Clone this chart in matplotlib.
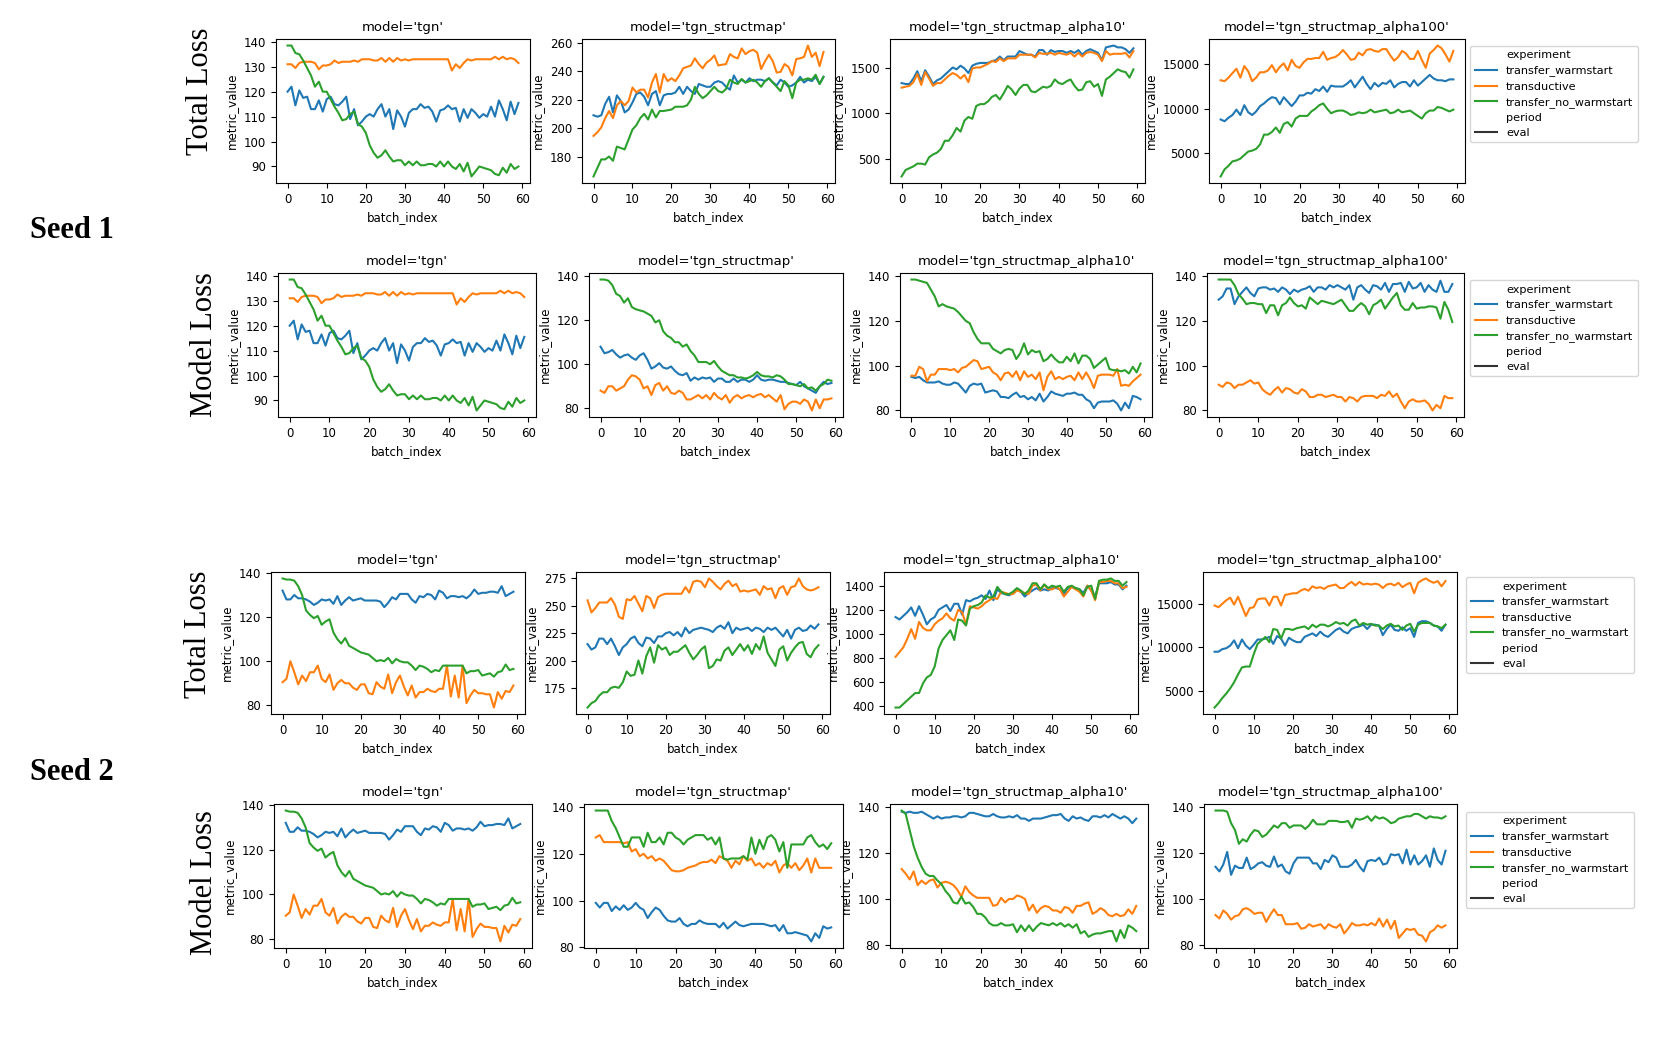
import numpy as np
import matplotlib.pyplot as plt
from matplotlib.lines import Line2D

# experiments / models
experiments = ["transfer_warmstart", "transductive", "transfer_no_warmstart"]
models = ["tgn", "tgn_structmap", "tgn_structmap_alpha10", "tgn_structmap_alpha100"]
colors = ["#1f77b4", "#ff7f0e", "#2ca02c"]

# ---------------- seed 1 ----------------
# tgn (total loss == model loss)
s1_tgn_warm = [120, 122, 114.5, 120.5, 117.5, 118, 113, 113, 116.5, 112,
               117, 118, 115, 114.5, 116, 118, 109, 113, 106.5, 108,
               110, 111, 110, 113, 115, 110, 113, 105, 112.5, 110,
               106, 111.5, 113, 113, 115, 113.5, 114, 112, 108, 112.5,
               113, 114.5, 113, 113.5, 108, 113, 109.5, 113, 111.5, 109.5,
               111, 110, 114, 110, 116.5, 113, 108.5, 116, 111, 115.5]
s1_tgn_trans = [131, 131, 129.5, 131.5, 132, 132, 132, 131.5, 129, 130.5,
                130.5, 131, 132.5, 131.5, 132, 132, 132, 132.5, 132, 133,
                133, 133, 132.5, 132.5, 133.5, 132, 133.5, 132, 133.5, 132.5,
                133, 132.5, 133, 133, 133, 133, 133, 133, 133, 133,
                133, 133, 128.5, 131, 129.5, 131.5, 133, 132.5, 133, 133,
                133, 133, 133, 134, 133, 134, 133, 133.5, 133, 131.5]
s1_tgn_nowarm = [138.5, 138.5, 135.5, 135, 132.5, 129.5, 126.5, 122, 124, 120,
                 120, 117, 114, 111.5, 108.5, 109, 111, 112, 107, 106,
                 103.5, 98.5, 95.5, 93.5, 94.5, 96.5, 94, 92, 92.5, 92.5,
                 90.5, 92, 90.5, 92, 90.5, 90.5, 91, 91, 90, 92,
                 90, 92, 90, 89, 91, 88, 91.5, 86, 88, 90,
                 89.5, 89, 88.5, 87, 86.5, 89.5, 87.5, 91, 89, 90]

# tgn_structmap, total loss
s1_sm_total_warm = [209, 208, 209, 217, 222, 211, 223, 219, 211, 213,
                    218, 224, 225, 222, 216, 224, 226, 216, 223, 224,
                    224, 225, 229, 224, 229, 226, 224, 231, 230, 229,
                    229, 232, 233, 232, 229, 227, 237, 232, 234, 232,
                    235, 233, 234, 234, 233, 235, 232, 230, 234, 232,
                    229, 230, 232, 236, 232, 234, 233, 236, 231, 236]
s1_sm_total_trans = [194.5, 197, 200.5, 207, 212, 207, 216, 219, 216, 219,
                     228.5, 225, 227, 227, 221.5, 232, 238, 225, 238, 233,
                     235, 233, 237, 242, 243, 244, 249, 245, 242, 246,
                     248, 251, 244, 244.5, 245, 252, 250, 249, 256, 252,
                     254, 255, 253, 241.5, 247, 251.5, 247, 239, 239.5, 245,
                     243, 237, 248.5, 249, 250, 258, 250, 253, 243.5, 253.5]
s1_sm_total_nowarm = [166, 172, 178, 178, 180, 177, 187, 186, 185, 192,
                      199, 202, 207, 210, 206, 213, 207.5, 212, 212, 212.5,
                      213, 215, 215, 215, 216, 220, 229, 224, 221, 223,
                      226, 229, 226, 225, 227.5, 234, 232, 231, 234.5, 232,
                      233, 234, 232, 229, 233, 235, 232, 229, 226, 233,
                      230, 221, 232, 234, 234, 235, 234, 237.5, 231, 236]

# tgn_structmap_alpha10, total loss
s1_a10_total_warm = [1330, 1320, 1320, 1380, 1460, 1350, 1470, 1400, 1320, 1360,
                     1380, 1420, 1460, 1500, 1480, 1520, 1490, 1440, 1520, 1540,
                     1550, 1550, 1550, 1570, 1580, 1620, 1580, 1620, 1620, 1620,
                     1680, 1660, 1640, 1640, 1620, 1690, 1690, 1640, 1690, 1670,
                     1680, 1680, 1660, 1680, 1660, 1690, 1640, 1680, 1700, 1680,
                     1660, 1580, 1720, 1730, 1740, 1720, 1720, 1700, 1660, 1710]
s1_a10_total_trans = [1280, 1290, 1300, 1340, 1430, 1310, 1450, 1380, 1300, 1330,
                      1330, 1370, 1410, 1440, 1420, 1380, 1420, 1340, 1490, 1500,
                      1500, 1520, 1540, 1570, 1560, 1600, 1570, 1600, 1600, 1600,
                      1640, 1640, 1640, 1640, 1610, 1660, 1650, 1650, 1660, 1640,
                      1660, 1650, 1640, 1660, 1620, 1660, 1620, 1660, 1670, 1660,
                      1640, 1570, 1680, 1640, 1650, 1650, 1650, 1660, 1610, 1680]
s1_a10_total_nowarm = [310, 380, 400, 420, 450, 450, 440, 520, 550, 570,
                       610, 700, 700, 760, 840, 800, 920, 960, 940, 1080,
                       1100, 1100, 1130, 1180, 1200, 1150, 1220, 1300, 1260, 1200,
                       1270, 1310, 1310, 1240, 1230, 1260, 1290, 1280, 1300, 1370,
                       1330, 1320, 1350, 1370, 1300, 1250, 1260, 1340, 1350, 1290,
                       1320, 1190, 1370, 1400, 1440, 1480, 1460, 1450, 1390, 1480]

# tgn_structmap_alpha100, total loss
s1_a100_total_warm = [8800, 8600, 9000, 9300, 9900, 9300, 10400, 9600, 9300, 9700,
                      10300, 10600, 11000, 11300, 11200, 10500, 11300, 10800, 10300, 10800,
                      11500, 11500, 11800, 11700, 12200, 12000, 12500, 11900, 12600, 12500,
                      12500, 12500, 12800, 13200, 12400, 13000, 13600, 12800, 12200, 12900,
                      12500, 12900, 12800, 13200, 12400, 12800, 13000, 13000, 12500, 13200,
                      12600, 13000, 13400, 13800, 13400, 13200, 13200, 13100, 13300, 13300]
s1_a100_total_trans = [13200, 13100, 13500, 14000, 14500, 13500, 14800, 14200, 13100, 13500,
                       14100, 14100, 14300, 14900, 14100, 14700, 15100, 14300, 15500, 14800,
                       14600, 15200, 15600, 15600, 15700, 15700, 16400, 15500, 15700, 15800,
                       16100, 16600, 16100, 15500, 15600, 16300, 16000, 16600, 16700, 16500,
                       16400, 16700, 16700, 16000, 15400, 15800, 16500, 16200, 15600, 15600,
                       16500, 15500, 14600, 16200, 16600, 17100, 16800, 16100, 15300, 16500]
s1_a100_total_nowarm = [2400, 3200, 3600, 4100, 4200, 4400, 4800, 5200, 5300, 5500,
                        6000, 7100, 7100, 7400, 7900, 7300, 8300, 8500, 8000, 8900,
                        9200, 9200, 9200, 9700, 10000, 10400, 10600, 10000, 9500, 9700,
                        9800, 9800, 9600, 9300, 9400, 9600, 9500, 9600, 9900, 9600,
                        9700, 9800, 9900, 9500, 9600, 9900, 9600, 9700, 9800, 9500,
                        9200, 8900, 9500, 9800, 9800, 10200, 10100, 9900, 9700, 9900]

# tgn_structmap, model loss
s1_sm_model_warm = [108, 105, 105.5, 106.5, 104.5, 103, 104, 104.5, 103, 102,
                    104, 105, 102, 98, 99, 100.5, 98.5, 98, 99, 97,
                    95.5, 95, 96, 92.5, 94, 93, 94, 93.5, 94, 92,
                    93.5, 93.5, 92, 92, 93.5, 92, 93, 93, 92, 93,
                    95, 93, 92.5, 93, 93, 92.5, 92, 92, 91.5, 91,
                    90.5, 92, 90, 89, 88, 87, 90, 92, 91, 91.5]
s1_sm_model_trans = [88, 87, 90, 90, 88, 89, 90, 93, 95, 94.5,
                     93, 89, 90, 86, 90.5, 91.5, 88, 90, 87, 86.5,
                     88, 87, 84, 84, 85, 86, 84.5, 86, 84, 87,
                     85, 84, 86, 82.5, 85, 86, 84.5, 85.5, 86, 85,
                     86, 86.5, 85, 86, 84.5, 83, 86, 79.5, 82, 83,
                     83, 82, 84, 83, 79, 84, 80, 84, 84, 84.5]
s1_sm_model_nowarm = [138.5, 138.5, 138, 136, 132, 131, 128, 130, 126, 125,
                      124.5, 124, 123, 122, 119, 120, 115, 113, 112, 110,
                      110, 108, 109, 106, 104, 101, 101, 101, 100, 101.5,
                      99, 97, 96, 95, 95, 94, 94, 93.5, 94, 95,
                      96.5, 95, 94.5, 94.5, 94, 95, 94.5, 93, 91, 91,
                      90.5, 90, 91, 89, 89.5, 88, 90, 91, 93, 92.5]

# tgn_structmap_alpha10, model loss
s1_a10_model_warm = [95, 94.5, 95, 93.5, 92.5, 92.5, 92.5, 93, 92, 91.5,
                     91.5, 92.5, 92, 90, 88, 91, 92, 91.5, 92, 88,
                     88.5, 89, 88.5, 86, 86, 85.5, 87, 88, 86, 86.5,
                     85, 86, 84.5, 87.5, 84, 86, 88.5, 87.5, 87, 86.5,
                     87.5, 87.5, 88, 87, 87, 85, 84, 81, 83.5, 84,
                     84, 84, 84.5, 83, 80, 83.5, 81, 86.5, 86, 85]
s1_a10_model_trans = [95.5, 95.5, 99.5, 98.5, 93, 96, 96, 98.5, 98.5, 98.5,
                      98, 98.5, 97, 99, 99.5, 101, 102.5, 102, 98.5, 99,
                      99.5, 97, 96, 93.5, 96.5, 97, 95, 97.5, 93.5, 97.5,
                      95, 96, 94, 97, 89, 95, 97.5, 94, 95, 94,
                      95, 95.5, 93.5, 97, 94, 97, 94, 90, 95.5, 96,
                      96, 96, 95.5, 98.5, 91, 91.5, 91, 93, 94.5, 96]
s1_a10_model_nowarm = [138.5, 138.5, 138, 137.5, 137, 134, 131, 126.5, 127.5, 126.5,
                       126, 125.5, 124, 122, 120, 119, 115, 112, 110, 110,
                       110, 107.5, 106.5, 105.5, 107, 107.5, 107, 103, 105.5, 110,
                       105, 107, 106, 106.5, 102, 103, 105, 103, 101.5, 101.5,
                       104, 102, 105.5, 101, 104.5, 104.5, 103, 99, 100.5, 102,
                       103.5, 98.5, 98, 98, 97.5, 98, 96.5, 99.5, 97, 101]

# tgn_structmap_alpha100, model loss
s1_a100_model_warm = [129.5, 131, 134.5, 134.5, 127.5, 131, 133, 135, 132.5, 131,
                      134.5, 135, 135, 134, 134.5, 133, 135, 134, 132, 134,
                      133, 134, 134.5, 135.5, 133, 135, 135, 134, 136, 135,
                      136, 135, 134, 136, 129.5, 135, 136, 134, 132.5, 136,
                      135.5, 134, 137, 133, 136.5, 136.5, 137, 133, 137.5, 134.5,
                      135, 137, 133, 136, 134, 133, 138, 133, 133, 136.5]
s1_a100_model_trans = [91.5, 90.5, 92.5, 92, 90, 91.5, 91.5, 92.5, 93.5, 92,
                       92.5, 89.5, 88, 87, 89, 90.5, 88, 90, 89.5, 88,
                       87.5, 89.5, 88.5, 86, 86, 87, 87, 86, 86.5, 87,
                       86, 86, 84, 86, 85.5, 84, 86, 86.5, 86.5, 86.5,
                       85.5, 87, 86.5, 88.5, 86, 87.5, 84, 81, 84, 85,
                       84, 84, 84.5, 83, 80, 82.5, 81, 86.5, 85.5, 85.5]
s1_a100_model_nowarm = [138.5, 138.5, 138.5, 138.5, 136, 132, 130, 127.5, 128, 128,
                        127.5, 127.5, 123.5, 127, 127, 122.5, 127, 128, 130.5, 128,
                        126.5, 127, 125.5, 130.5, 129, 127.5, 129, 128.5, 128, 127.5,
                        128.5, 129.5, 127, 124.5, 124.5, 126.5, 128, 126.5, 123, 127,
                        128, 129.5, 125.5, 128, 130.5, 132.5, 127, 125, 125, 128,
                        125.5, 126, 126, 126.5, 126.5, 126, 121, 128.5, 125, 119.5]

# ---------------- seed 2 ----------------
s2_tgn_warm = [132, 128, 128, 130, 128.5, 128.5, 128, 127, 125.5, 126.5,
               128, 127.5, 128, 126, 129.5, 125.5, 127.5, 129, 127.5, 128,
               128.5, 127.5, 127.5, 127.5, 127.5, 127, 124.5, 126.5, 129, 128,
               130.5, 130.5, 130.5, 128, 126.5, 129.5, 129, 130.5, 130, 128,
               132, 131, 128.5, 129.5, 129.5, 129, 129.5, 128.5, 130, 132.5,
               130.5, 131, 131, 131.5, 131.5, 131, 134, 129.5, 130.5, 131.5]
s2_tgn_trans = [90.5, 92, 100, 95, 89.5, 93.5, 91, 95, 95, 98,
                92, 90.5, 94, 87, 90, 91.5, 90, 90, 88, 87,
                89.5, 89.5, 85.5, 85, 90.5, 88.5, 87.5, 94, 85.5, 90.5,
                93.5, 88.5, 84.5, 89, 83.5, 86, 86, 87.5, 86.5, 86,
                87.5, 87.5, 98, 84, 93.5, 83.5, 98, 81, 84.5, 87,
                85.5, 85.5, 85, 85, 79, 86, 83, 86.5, 86, 89]
s2_tgn_nowarm = [137.5, 137, 137, 136.5, 134, 130, 123, 121, 119.5, 120.5,
                 116.5, 118, 119, 113, 110, 108, 110.5, 107, 106, 105,
                 104, 103.5, 103, 101.5, 100, 100.5, 100, 101.5, 99, 101,
                 100, 99.5, 99.5, 98, 96, 98, 97.5, 96.5, 95, 96,
                 95.5, 98, 98, 98, 98, 98, 98, 94.5, 95.5, 95.5,
                 96, 93.5, 94, 94.5, 93, 95, 95.5, 98.5, 96, 96.5]

s2_sm_total_warm = [215, 210, 212, 220, 220, 215, 220, 213, 205, 212,
                    215, 220, 222, 216, 213, 221, 220, 216, 222, 222,
                    225, 226, 223, 226, 222, 230, 225, 228, 229, 230,
                    229, 228, 226, 230, 232, 229, 235, 225, 230, 228,
                    229, 230, 227, 230, 229, 226, 230, 228, 230, 226,
                    222, 228, 220, 228, 230, 227, 228, 232, 229, 233]
s2_sm_total_trans = [255, 244, 248, 253, 253, 253, 257, 251, 240, 238,
                     256, 255, 259, 252, 245, 259, 257, 248, 258, 260,
                     261, 261, 261, 261, 261, 267, 262, 272, 273, 272,
                     267, 275, 272, 268, 265, 270, 273, 268, 270, 263,
                     264, 263, 264, 265, 260, 268, 265, 266, 257, 266,
                     268, 260, 267, 268, 275, 268, 265, 264, 265, 267]
s2_sm_total_nowarm = [157, 161, 163, 168, 171, 171, 175, 176, 175, 180,
                      190, 186, 187, 200, 188, 204, 212, 198, 214, 210,
                      212, 205, 208, 208, 211, 214, 207, 201, 205, 210,
                      213, 193, 195, 201, 200, 209, 212, 205, 210, 215,
                      209, 214, 206, 215, 210, 222, 207, 201, 195, 210,
                      213, 200, 207, 212, 216, 217, 206, 203, 210, 214]

s2_a10_total_warm = [1140, 1120, 1150, 1180, 1220, 1150, 1230, 1160, 1080, 1120,
                     1140, 1200, 1220, 1240, 1190, 1250, 1250, 1160, 1280, 1270,
                     1290, 1300, 1320, 1290, 1360, 1280, 1370, 1340, 1330, 1320,
                     1340, 1370, 1350, 1310, 1340, 1360, 1380, 1360, 1370, 1360,
                     1380, 1380, 1370, 1330, 1380, 1390, 1380, 1370, 1340, 1400,
                     1360, 1310, 1420, 1420, 1420, 1430, 1410, 1410, 1370, 1400]
s2_a10_total_trans = [810, 850, 890, 960, 1040, 960, 1100, 1050, 1030, 1030,
                      1080, 1110, 1130, 1170, 1130, 1110, 1200, 1180, 1080, 1230,
                      1220, 1210, 1230, 1260, 1280, 1300, 1290, 1350, 1340, 1330,
                      1330, 1360, 1350, 1340, 1330, 1400, 1410, 1360, 1410, 1370,
                      1370, 1390, 1370, 1310, 1350, 1390, 1370, 1350, 1310, 1400,
                      1360, 1280, 1430, 1430, 1440, 1440, 1420, 1420, 1380, 1390]
s2_a10_total_nowarm = [390, 390, 420, 450, 480, 510, 510, 590, 640, 660,
                       730, 880, 950, 990, 1030, 950, 1120, 1110, 1070, 1210,
                       1230, 1240, 1260, 1320, 1300, 1310, 1390, 1350, 1330, 1330,
                       1350, 1380, 1360, 1330, 1360, 1420, 1420, 1370, 1410, 1380,
                       1400, 1390, 1400, 1350, 1390, 1400, 1380, 1370, 1320, 1390,
                       1400, 1290, 1440, 1450, 1450, 1460, 1440, 1440, 1400, 1430]

s2_a100_total_warm = [9500, 9500, 9800, 9900, 10200, 10800, 9900, 10900, 10200, 9800,
                      10300, 10900, 10900, 11000, 11200, 10400, 11300, 11000, 10200, 11100,
                      10800, 10600, 10600, 11200, 11400, 11600, 11300, 11800, 11400, 11200,
                      11600, 12000, 12200, 11800, 11600, 12100, 12300, 12400, 12600, 12100,
                      12600, 12600, 12500, 11400, 12100, 12600, 12000, 11900, 12300, 11900,
                      12200, 11200, 12800, 13000, 13000, 12800, 12500, 12400, 11900, 12600]
s2_a100_total_trans = [14800, 14600, 15000, 15400, 15700, 14900, 15800, 14700, 13600, 14500,
                       14600, 15500, 15600, 15600, 14800, 15800, 15800, 14800, 16000, 16100,
                       16200, 16200, 16500, 16700, 16500, 17000, 16800, 16900, 16700, 17000,
                       17100, 17200, 16800, 16800, 17200, 17500, 17100, 17500, 17200, 17300,
                       17200, 17300, 17200, 16800, 17200, 17300, 17100, 17400, 16900, 17200,
                       17400, 16200, 17400, 17700, 17900, 17600, 17400, 17600, 17000, 17600]
s2_a100_total_nowarm = [3100, 3600, 4200, 4700, 5300, 6000, 6900, 7700, 7800, 7800,
                        9200, 10400, 10800, 11200, 10600, 12100, 12000, 11000, 12100, 12100,
                        12000, 12200, 12300, 12400, 12100, 12600, 12300, 12600, 12600, 12400,
                        12600, 12900, 12700, 12800, 12500, 13000, 13200, 12500, 12800, 12600,
                        12700, 12500, 12500, 12100, 12500, 12700, 12400, 12500, 12000, 12500,
                        12700, 11800, 12600, 12800, 12800, 12800, 12500, 12400, 12200, 12600]

s2_sm_model_warm = [99, 97, 99, 99, 95.5, 97.5, 96, 98, 96, 97,
                    99, 97, 96, 92.5, 95, 97, 96, 93.5, 91.5, 91,
                    91, 92.5, 90, 89, 90, 90, 91.5, 90.5, 90, 90,
                    90, 88.5, 90.5, 88, 89.5, 91, 89.5, 89, 89.5, 90,
                    90, 90, 90, 89.5, 89, 89.5, 87, 89.5, 86, 86,
                    86.5, 86, 85.5, 85, 82.5, 86, 84, 89, 88, 88.5]
s2_sm_model_trans = [127, 128, 125, 125, 125, 125, 125, 124.5, 125, 121,
                     122, 119, 120, 118, 119, 117, 118, 117, 115, 113,
                     112.5, 112.5, 113, 114, 114.5, 115, 116, 116.5, 116.5, 117.5,
                     116, 119, 118, 117, 114, 117, 115.5, 119, 117, 118,
                     115, 116, 114, 116, 115, 117, 112, 115, 116, 114,
                     116, 113, 115, 118, 112, 118, 114, 114, 114, 114]
s2_sm_model_nowarm = [138.5, 138.5, 138.5, 138.5, 134, 131, 127, 123, 123, 127,
                      127, 127, 123, 129, 125, 125, 127, 124, 129, 129,
                      127, 126, 124, 126, 127, 128, 128, 128, 126, 127,
                      124, 127, 118, 117.5, 118, 118, 118, 119, 117.5, 127,
                      120, 126, 122, 127, 128, 126, 121, 125, 114, 124,
                      124, 124, 124, 127, 128, 125, 123, 124, 122, 124.5]

s2_a10_model_warm = [138, 137.5, 138, 137.5, 137.5, 138, 137, 136, 135, 136,
                     135, 135.5, 135.5, 136, 136, 135.5, 136, 137.5, 137.5, 137,
                     136.5, 136, 136, 137, 136, 135.5, 135.5, 136, 135.5, 136.5,
                     135, 135, 134, 135, 135, 135, 135.5, 136, 136.5, 136.5,
                     137, 135, 134, 136, 135, 135.5, 134.5, 134, 136, 136,
                     135.5, 136.5, 135.5, 137, 136, 135, 136, 135, 133, 135]
s2_a10_model_trans = [113, 111, 108.5, 112, 106, 108, 106.5, 108, 108.5, 105,
                      107, 107.5, 107, 106, 104, 101, 105.5, 103, 101.5, 100.5,
                      100.5, 100.5, 100.5, 97, 97.5, 100.5, 98.5, 100, 100, 101.5,
                      101, 100, 95, 97.5, 94, 96, 97, 96.5, 95, 95,
                      94, 96.5, 96, 94, 97, 97, 98, 98.5, 93.5, 94.5,
                      96, 95, 93, 92.5, 93.5, 92.5, 93, 95.5, 93.5, 97]
s2_a10_model_nowarm = [138.5, 137, 130, 123, 118, 114, 111, 110, 110, 108,
                       106.5, 103.5, 101.5, 98.5, 98, 101, 98, 98.5, 96.5, 93.5,
                       93.5, 92, 89.5, 88.5, 88.5, 89.5, 88.5, 88.5, 89, 85.5,
                       88.5, 86, 88.5, 86, 88, 89.5, 89, 88.5, 89.5, 88.5,
                       89.5, 88, 89, 87.5, 89, 85, 86, 83.5, 84.5, 85,
                       85, 85.5, 86, 86, 81.5, 86.5, 83, 88.5, 87.5, 86]

s2_a100_model_warm = [114, 112, 115, 120.5, 110.5, 114.5, 113.5, 113.5, 118, 113,
                      114, 115.5, 116, 114.5, 114, 118.5, 114, 115, 112, 111,
                      115.5, 118, 118, 118, 118, 115.5, 115.5, 113, 117, 116,
                      119, 118, 114, 114, 114, 115, 117, 114, 112, 116.5,
                      117, 116.5, 118, 115, 115.5, 119.5, 119, 119.5, 115.5, 121.5,
                      115, 119, 115, 116.5, 119, 114, 122, 117, 115, 121]
s2_a100_model_trans = [93, 91.5, 95, 93.5, 91, 92.5, 93, 95.5, 96, 95,
                       93.5, 94, 94, 90, 93, 95.5, 93, 93, 89, 89,
                       89, 89.5, 87, 87.5, 89, 88, 88.5, 89, 87, 89,
                       88, 87.5, 89, 85, 87, 89.5, 88.5, 88.5, 89, 88.5,
                       89.5, 88.5, 91.5, 88, 91, 87, 90.5, 83, 85, 87,
                       86.5, 87, 84.5, 84, 81.5, 85.5, 86.5, 88.5, 87.5, 88.5]
s2_a100_model_nowarm = [138.5, 138.5, 138.5, 138, 133, 130, 124, 126, 125, 128,
                        130, 129.5, 127, 128, 130, 132, 131, 133, 133, 131,
                        132, 132, 132, 130.5, 132, 134.5, 132.5, 132.5, 132.5, 134,
                        134, 134, 133.5, 133.5, 134, 131, 135, 134.5, 135, 136,
                        134, 136, 135, 135.5, 134.5, 133, 133.5, 135, 135.5, 136,
                        136, 137, 137, 136, 135, 136, 135.5, 135.5, 135, 136]

# rows of the figure: seed1 total, seed1 model, seed2 total, seed2 model
rows = [
    [(s1_tgn_warm, s1_tgn_trans, s1_tgn_nowarm),
     (s1_sm_total_warm, s1_sm_total_trans, s1_sm_total_nowarm),
     (s1_a10_total_warm, s1_a10_total_trans, s1_a10_total_nowarm),
     (s1_a100_total_warm, s1_a100_total_trans, s1_a100_total_nowarm)],
    [(s1_tgn_warm, s1_tgn_trans, s1_tgn_nowarm),
     (s1_sm_model_warm, s1_sm_model_trans, s1_sm_model_nowarm),
     (s1_a10_model_warm, s1_a10_model_trans, s1_a10_model_nowarm),
     (s1_a100_model_warm, s1_a100_model_trans, s1_a100_model_nowarm)],
    [(s2_tgn_warm, s2_tgn_trans, s2_tgn_nowarm),
     (s2_sm_total_warm, s2_sm_total_trans, s2_sm_total_nowarm),
     (s2_a10_total_warm, s2_a10_total_trans, s2_a10_total_nowarm),
     (s2_a100_total_warm, s2_a100_total_trans, s2_a100_total_nowarm)],
    [(s2_tgn_warm, s2_tgn_trans, s2_tgn_nowarm),
     (s2_sm_model_warm, s2_sm_model_trans, s2_sm_model_nowarm),
     (s2_a10_model_warm, s2_a10_model_trans, s2_a10_model_nowarm),
     (s2_a100_model_warm, s2_a100_model_trans, s2_a100_model_nowarm)],
]

W, H = 1661, 1059
fig = plt.figure(figsize=(W / 100, H / 100), dpi=100)

# axes boxes in pixels: (top, bottom) per row, (left, right) per panel
row_tb = [(39, 183), (273, 417), (572, 714), (804, 948)]
row_lr = [
    [(276, 530), (582, 835), (890, 1145), (1209, 1465)],
    [(278, 536), (589, 843), (900, 1152), (1207, 1464)],
    [(271, 525), (576, 830), (884, 1138), (1203, 1457)],
    [(274, 532), (584, 843), (890, 1148), (1204, 1457)],
]
legend_pos = [(1470, 46), (1470, 280), (1466, 577), (1466, 812)]

for r, row in enumerate(rows):
    top, bot = row_tb[r]
    for c, series in enumerate(row):
        left, right = row_lr[r][c]
        ax = fig.add_axes([left / W, 1 - bot / H, (right - left) / W, (bot - top) / H])
        for vals, col in zip(series, colors):
            ax.plot(np.arange(len(vals)), vals, color=col, lw=1.5)
        ax.set_title(f"model='{models[c]}'", fontsize=9.5)
        ax.set_xlabel("batch_index", fontsize=8.5)
        ax.set_ylabel("metric_value", fontsize=8.5)
        ax.set_xticks([0, 10, 20, 30, 40, 50, 60])
        ax.tick_params(labelsize=8.5)
        for s in ax.spines.values():
            s.set_linewidth(0.8)

    # seaborn style legend
    handles = [Line2D([], [], color="none", label="experiment")]
    for e, col in zip(experiments, colors):
        handles.append(Line2D([], [], color=col, lw=1.5, label=e))
    handles.append(Line2D([], [], color="none", label="period"))
    handles.append(Line2D([], [], color="#333333", lw=1.5, label="eval"))
    lx, ly = legend_pos[r]
    fig.legend(handles=handles, loc="upper left", bbox_to_anchor=(lx / W, 1 - ly / H),
               fontsize=8.1, labelspacing=0.45, frameon=True, borderaxespad=0)

# row labels
serif = ["Liberation Serif", "DejaVu Serif"]
row_labels = ["Total Loss", "Model Loss", "Total Loss", "Model Loss"]
label_xy = [(200, 91), (204, 345), (198, 634), (205, 883)]
for lab, (x, y) in zip(row_labels, label_xy):
    fig.text(x / W, 1 - y / H, lab, rotation=90, fontsize=22, family=serif,
             ha="center", va="center")

fig.text(30 / W, 1 - 230 / H, "Seed 1", fontsize=22, weight="bold", family=serif,
         ha="left", va="center")
fig.text(30 / W, 1 - 773 / H, "Seed 2", fontsize=22, weight="bold", family=serif,
         ha="left", va="center")

fig.savefig("out.png", dpi=100)
